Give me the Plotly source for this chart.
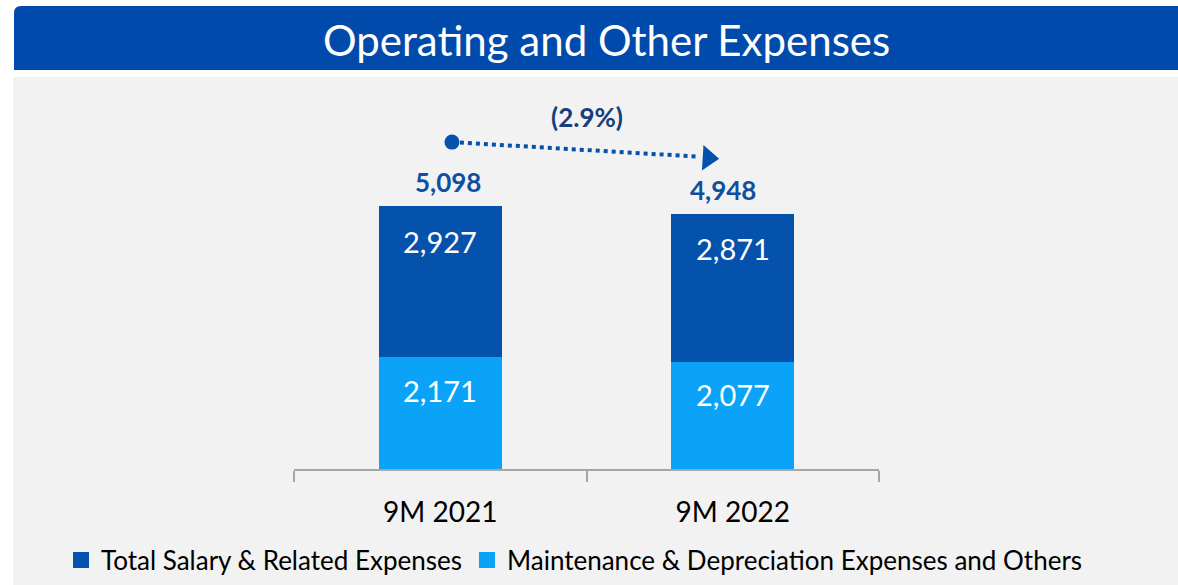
import plotly.graph_objects as go

categories = ["9M 2021", "9M 2022"]
salary = [2927, 2871]
maintenance = [2171, 2077]
totals = [5098, 4948]
change_label = "(2.9%)"
series_names = ["Total Salary & Related Expenses", "Maintenance & Depreciation Expenses and Others"]

DARK = "#0552AD"
LIGHT = "#0BA3F7"
LABEL = "#0F4FA0"
FONT = "Lato"

W, H = 1178, 585
def px(xp):
    return xp / W
def py(yp):
    return 1 - yp / H

fig = go.Figure()
fig.add_trace(go.Bar(x=categories, y=maintenance, name=series_names[1], marker_color=LIGHT,
                     marker_line_width=0, width=0.42, showlegend=False))
fig.add_trace(go.Bar(x=categories, y=salary, name=series_names[0], marker_color=DARK,
                     marker_line_width=0, width=0.42, showlegend=False))
# legend proxies (larger square swatches)
for name, col in [(series_names[0], DARK), (series_names[1], LIGHT)]:
    fig.add_trace(go.Scatter(x=[None], y=[None], mode="markers", name=name,
                             marker=dict(symbol="square", size=20, color=col)))

# segment labels
total_xshift = [8, -10]
for i, c in enumerate(categories):
    fig.add_annotation(x=c, y=maintenance[i], text=f"{maintenance[i]:,}", showarrow=False,
                       yshift=-33, font=dict(family=FONT, size=29, color="white"))
    fig.add_annotation(x=c, y=maintenance[i] + salary[i], text=f"{salary[i]:,}", showarrow=False,
                       yshift=-35, font=dict(family=FONT, size=29, color="white"))
    fig.add_annotation(x=c, y=totals[i], text=f"<b>{totals[i]:,}</b>", showarrow=False,
                       yshift=24, xshift=total_xshift[i], font=dict(family=FONT, size=26, color=LABEL))

# change arrow (dotted line from first to second total), on an overlaid linear axis
y0 = totals[0] * 1.243
y1 = totals[1] * 1.218
fig.add_trace(go.Scatter(x=[0.04, 0.875], y=[y0, y1 + 30], mode="lines", xaxis="x2",
                         line=dict(color=DARK, width=4, dash="dot"), showlegend=False,
                         hoverinfo="skip"))
fig.add_trace(go.Scatter(x=[0.04], y=[y0], mode="markers", xaxis="x2",
                         marker=dict(color=DARK, size=15, line_width=0),
                         showlegend=False, hoverinfo="skip"))
fig.add_trace(go.Scatter(x=[0.916], y=[y1], mode="markers", xaxis="x2",
                         marker=dict(color=DARK, size=22, symbol="triangle-right", angle=3.5, line_width=0),
                         showlegend=False, hoverinfo="skip"))
fig.add_annotation(x=0.5, xref="x2", y=(y0 + y1) / 2, text=f"<b>{change_label}</b>", showarrow=False,
                   yshift=33, font=dict(family=FONT, size=26, color="#143E7C"))

# background panels
fig.add_shape(type="rect", xref="paper", yref="paper", x0=px(13), x1=1, y0=0, y1=py(77),
              fillcolor="#F2F2F2", line_width=0, layer="below")
r = 7
fig.add_shape(type="path", xref="paper", yref="paper",
              path=(f"M {px(14)},{py(70)} L {px(14)},{py(6 + r)} Q {px(14)},{py(6)} {px(14 + r)},{py(6)} "
                    f"L 1,{py(6)} L 1,{py(70)} Z"),
              fillcolor="#004AAB", line_width=0, layer="below")
fig.add_annotation(xref="paper", yref="paper", x=px(606), y=py(40), xanchor="center", yanchor="middle",
                   text="Operating and Other Expenses",
                   showarrow=False, font=dict(family=FONT, size=42, color="white"))

ymax = (469 - 99) * 5098 / 263
fig.update_layout(
    width=W, height=H, barmode="stack",
    paper_bgcolor="white", plot_bgcolor="rgba(0,0,0,0)",
    margin=dict(l=0, r=0, t=0, b=0),
    font=dict(family=FONT, color="black"),
    xaxis=dict(domain=[px(294), px(879)], showline=True, linecolor="#A6A6A6", linewidth=2,
               ticks="outside", tickson="boundaries", ticklen=11, tickcolor="#A6A6A6", tickwidth=2,
               tickfont=dict(family=FONT, size=28, color="black"), ticklabelstandoff=17,
               range=[-0.5, 1.5], showgrid=False),
    xaxis2=dict(domain=[px(294), px(879)], overlaying="x", range=[-0.5, 1.5], visible=False,
                anchor="y"),
    yaxis=dict(domain=[py(469), py(99)], range=[0, ymax], visible=False, showgrid=False),
    showlegend=True,
    legend=dict(orientation="h", x=px(61), y=py(560), xanchor="left", yanchor="middle",
                font=dict(family=FONT, size=26, color="black"), bgcolor="rgba(0,0,0,0)",
                traceorder="normal", itemsizing="trace"),
)

fig.write_html("out.html", post_script="document.body.style.margin='0';",
               config={"displayModeBar": False})
